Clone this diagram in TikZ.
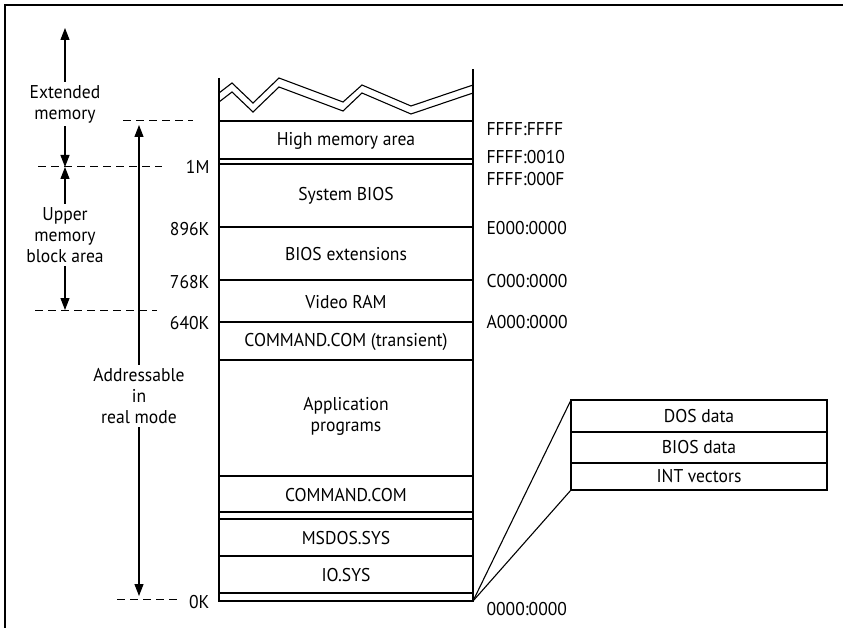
\documentclass[tikz,border=0pt]{standalone}
\usepackage{fontspec}
\setmainfont{PT Sans}[FakeStretch=0.95]
\usetikzlibrary{arrows.meta,positioning}
\newcommand\memfont{\fontsize{18.5}{21}\selectfont}
\begin{document}
\begin{tikzpicture}[x=1pt,y=-1pt,line width=1.1pt]
\tikzstyle{band}=[inner sep=0pt,align=center,font=\memfont]
\tikzstyle{addr}=[inner sep=1pt,font=\memfont]
\tikzstyle{lbl}=[inner sep=3pt,align=center,font=\memfont]
\tikzstyle{cell}=[draw,minimum width=256pt,inner sep=0pt,outer sep=0pt,font=\memfont]
\tikzstyle{arr}=[-{Triangle[length=12pt,width=9pt]}]
\tikzstyle{limit}=[line width=1pt,dash pattern=on 8pt off 5pt]
\useasboundingbox (0,0) rectangle (843,628);
\draw (5,628) -- (5,5) -- (843,5);
% memory column
\draw (219,78) -- (219,601) -- (473,601) -- (473,69);
\foreach \y in {121,159,164,227,280,322,360,476,512,519,556,593}
  \draw (219,\y) -- (473,\y);
\draw (219,93) -- (232,83) -- (253,103) -- (279,78) -- (343,102) -- (362,85) -- (411,106) -- (473,85);
\draw (219,102) -- (232,92) -- (253,112) -- (279,87) -- (343,111) -- (362,93) -- (411,114) -- (473,93);
\node[band] (hma) at (346,141) {High memory area};
\node[band] (sysbios) at (346,196) {System BIOS};
\node[band] (biosext) at (346,254) {BIOS extensions};
\node[band] (vram) at (346,302) {Video RAM};
\node[band] (transient) at (346,342) {COMMAND.COM (transient)};
\node[band] (apps) at (346,416) {Application\\programs};
\node[band] (resident) at (346,495) {COMMAND.COM};
\node[band] (msdos) at (346,538) {MSDOS.SYS};
\node[band] (iosys) at (346,575) {IO.SYS};
% sizes on the left
\node[addr,anchor=east] (k1m) at (211,167) {1M};
\node[addr,anchor=east] (k896) at (211,229) {896K};
\node[addr,anchor=east] (k768) at (211,282) {768K};
\node[addr,anchor=east] (k640) at (211,323) {640K};
\node[addr,anchor=east] (k0) at (211,602) {0K};
% segment:offset on the right
\node[addr,anchor=west] (aFFFF) at (485,129) {FFFF:FFFF};
\node[addr,anchor=west] (a0010) at (485,157) {FFFF:0010};
\node[addr,anchor=west] (a000F) at (485,179) {FFFF:000F};
\node[addr,anchor=west] (aE000) at (485,228) {E000:0000};
\node[addr,anchor=west] (aC000) at (485,281) {C000:0000};
\node[addr,anchor=west] (aA000) at (485,322) {A000:0000};
\node[addr,anchor=west] (a0000) at (485,609) {0000:0000};
% limits
\coordinate (hmaL) at (123,121); \coordinate (hmaR) at (193,121);
\coordinate (oneL) at (38,167); \coordinate (oneR) at (162,167);
\coordinate (umbL) at (35,310); \coordinate (umbR) at (157,310);
\coordinate (zeroL) at (117,599); \coordinate (zeroR) at (177,599);
\coordinate (extTop) at (65,28);
\draw[limit] (hmaL) -- (hmaR);
\draw[limit] (oneL) -- (oneR);
\draw[limit] (umbL) -- (umbR);
\draw[limit] (zeroL) -- (zeroR);
% ranges
\node[lbl] (ext) at (65,104) {Extended\\memory};
\node[lbl] (umb) at (65,235) {Upper\\memory\\block area};
\node[lbl] (real) at (139,396) {Addressable\\in\\real mode};
\draw[arr] (ext) -- (extTop);
\draw[arr] (ext) -- (ext |- oneL);
\draw[arr] (umb) -- (umb |- oneL);
\draw[arr] (umb) -- (umb |- umbL);
\draw[arr,shorten >=4pt] (real) -- (real |- hmaL);
\draw[arr,shorten >=3pt] (real) -- (real |- zeroL);
% low memory detail
\node[cell,minimum height=32pt] (dos) at (699,416) {DOS data};
\node[cell,minimum height=31pt,below=0pt of dos] (bios) {BIOS data};
\node[cell,minimum height=27pt,below=0pt of bios] (ivt) {INT vectors};
\coordinate (base) at (473,601);
\draw (base) -- (dos.north west);
\draw (base) -- (ivt.south west);
\end{tikzpicture}
\end{document}
